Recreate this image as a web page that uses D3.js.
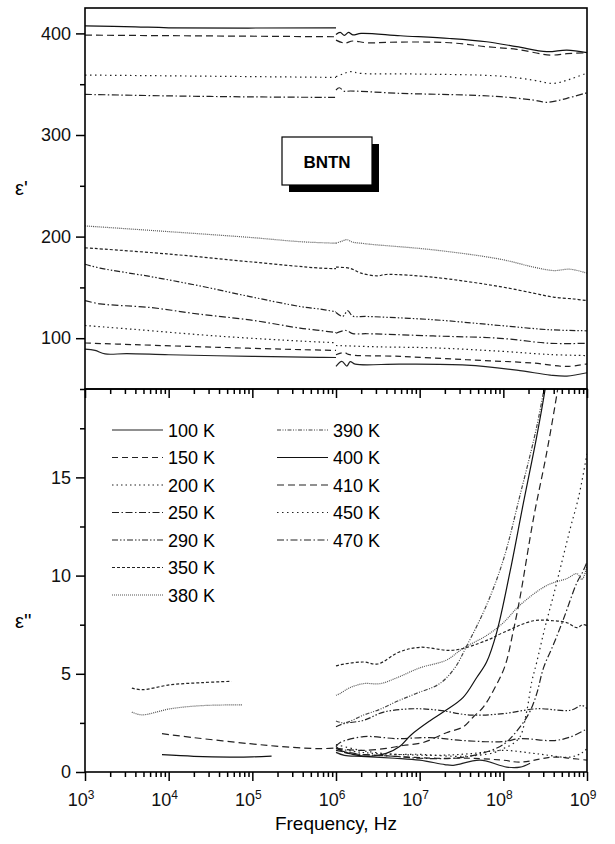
<!DOCTYPE html>
<html>
<head>
<meta charset="utf-8">
<script src="https://cdnjs.cloudflare.com/ajax/libs/d3/7.8.5/d3.min.js"></script>
<style>
body { margin: 0; background: #fff; }
svg { display: block; font-family: "Liberation Sans", Arial, Helvetica, sans-serif; }
</style>
</head>
<body>
<svg id="chart" width="615" height="844"></svg>
<script>
// temperatures in legend order
var temps = ["100 K", "150 K", "200 K", "250 K", "290 K", "350 K", "380 K", "390 K", "400 K", "410 K", "450 K", "470 K"]

// ε' curves, points are [log10(f / Hz), value]; lo = 1e3..1e6, hi = 1e6..1e9
var re100lo = [[3,89.3],[3.12,88],[3.24,84.5],[3.5,84.8],[4,83.7],[5,82.1],[5.8,81.1],[6,81]]
var re100hi = [[6,72.2],[6.07,77.1],[6.13,72.6],[6.17,77],[6.23,74.5],[6.77,74.5],[7.56,73.5],[8.16,68.6],[8.56,63.7],[8.76,62.7],[9,66]]
var re150lo = [[3,95.3],[3.6,93.6],[4.6,91],[5.6,88.7],[6,88]]
var re150hi = [[6,83.7],[6.1,86],[6.15,84],[6.77,82.1],[7.56,78.8],[8.36,75.5],[8.76,72.2],[9,74.8]]
var re200lo = [[3,112.5],[3.6,108.6],[4.6,102],[5.6,97.1],[6,95.5]]
var re200hi = [[6,92.8],[6.5,91.5],[7.16,90.5],[7.96,87.2],[8.56,83.9],[9,82.9]]
var re250lo = [[3,137],[3.18,133.8],[3.78,130.2],[4.37,123.6],[4.97,118],[5.57,109.9],[5.81,107.6],[6,105.5]]
var re250hi = [[6,104.9],[6.12,107.6],[6.2,104.5],[6.37,104.4],[7.16,102.2],[7.96,99.9],[8.56,95],[9,95]]
var re290lo = [[3,172.8],[3.18,169],[3.78,160.7],[4.37,151.5],[4.97,141],[5.57,131.2],[5.81,128.6],[6,126]]
var re290hi = [[6,125.3],[6.08,121.5],[6.14,127],[6.2,121.8],[6.37,121.4],[7.16,118.2],[7.96,112.5],[8.56,108.3],[9,107.3]]
var re350lo = [[3,189],[3.98,183],[5,175],[5.81,169],[6,168.5]]
var re350hi = [[6,170],[6.17,168.7],[6.3,164],[6.49,161.4],[6.6,162.7],[7.16,160],[7.96,150.8],[8.36,144.3],[8.6,140.4],[8.84,138.6],[9,137]]
var re380lo = [[3,210.5],[3.98,205],[5,199],[5.57,195],[6,193.5]]
var re380hi = [[6,193.5],[6.07,195.5],[6.13,197],[6.2,194.5],[6.3,193.5],[6.4,192.5],[7.16,187],[7.96,177.8],[8.36,170],[8.6,166.6],[8.8,167.9],[9,164]]
var re400lo = [[3,407.5],[3.6,406.5],[4,405.5],[6,405.5]]
var re400hi = [[6,399],[6.05,401],[6.1,398],[6.15,401],[6.2,398.5],[6.3,400],[6.77,397.7],[7.36,395],[7.8,391.8],[8.16,386.9],[8.52,382],[8.76,383.6],[9,381]]
var re410lo = [[3,398.3],[6,396.7]]
var re410hi = [[6,393.4],[6.1,390.5],[6.2,392.5],[6.37,390.8],[6.77,391.5],[7.36,390.8],[7.8,386.9],[8.16,384.3],[8.56,378.7],[8.76,380],[9,381]]
var re450lo = [[3,359],[6,356.7]]
var re450hi = [[6,357.4],[6.08,360],[6.17,362.3],[6.3,360.6],[6.97,360],[7.96,358],[8.36,354],[8.6,350.8],[8.8,355],[9,361]]
var re470lo = [[3,340],[4,338.5],[5,337.5],[6,337]]
var re470hi = [[6,344.3],[6.04,346.5],[6.1,343],[6.17,343.3],[6.77,341],[7.56,339.3],[7.96,337.7],[8.36,334.4],[8.52,332.2],[8.76,336.1],[9,341.6]]

// ε'' curves
var im350lo = [[3.56,4.27],[3.68,4.19],[4.02,4.44],[4.4,4.55],[4.75,4.62]]
var im380lo = [[3.56,3.05],[3.68,2.91],[4.02,3.22],[4.4,3.38],[4.88,3.42]]
var im410lo = [[3.92,1.95],[4.3,1.75],[4.97,1.44],[5.4,1.28],[5.81,1.19],[6,1.22]]
var im400lo = [[3.92,0.88],[4.3,0.8],[4.73,0.76],[5,0.77],[5.23,0.81]]
var im100 = [[6,1.0],[6.1,0.85],[6.3,0.8],[6.7,0.7],[7,0.6],[7.3,0.38],[7.4,0.34],[7.72,0.6],[8.04,0.25],[8.2,0.25],[8.32,0.45]]
var im150 = [[6,1.3],[6.1,1.0],[6.3,0.9],[6.7,0.8],[7.2,0.7],[7.6,0.7],[8,0.6],[8.2,0.5],[8.6,0.76],[8.8,0.7],[9,0.6]]
var im200 = [[6,1.2],[6.3,1.0],[6.7,0.9],[7.2,0.85],[7.6,0.93],[8,1.1],[8.4,0.93],[8.8,0.76],[8.95,1.0],[9,1.2]]
var im250 = [[6,1.3],[6.05,1.5],[6.33,1.8],[6.73,1.7],[7.12,1.75],[7.52,1.6],[8,1.55],[8.2,1.7],[8.6,1.6],[8.8,1.78],[9,2.2]]
var im290 = [[6,2.3],[6.09,2.46],[6.33,2.63],[6.57,3.05],[6.93,3.22],[7.24,3.14],[7.6,2.9],[8,2.97],[8.4,3.22],[8.8,3.14],[8.94,3.39],[9,3.22]]
var im350 = [[6,5.4],[6.1,5.5],[6.33,5.6],[6.5,5.5],[6.75,6.1],[7,6.35],[7.4,6.2],[7.8,6.7],[8,7.1],[8.36,7.7],[8.6,7.7],[8.76,7.6],[8.88,7.35],[8.95,7.5],[9,7.45]]
var im380 = [[6,3.9],[6.05,4.0],[6.17,4.3],[6.33,4.5],[6.53,4.5],[6.73,4.8],[7,5.3],[7.32,5.7],[7.52,6.3],[7.8,6.95],[8,7.6],[8.2,8.5],[8.52,9.5],[8.76,9.85],[8.88,10.1],[8.94,9.8],[9,10.5]]
var im390 = [[6,2.6],[6.1,2.5],[6.33,2.9],[6.53,3.2],[6.73,3.6],[6.96,4.0],[7.24,4.5],[7.42,5.3],[7.56,6.4],[7.8,8.5],[8,10.8],[8.2,14.1],[8.4,17.6],[8.55,21]]
var im400 = [[6,1.2],[6.2,0.9],[6.4,0.8],[6.6,0.95],[6.76,1.3],[6.9,1.9],[7.12,2.6],[7.3,3.1],[7.52,3.8],[7.68,4.8],[7.8,5.6],[7.92,7.1],[8.08,10.2],[8.24,13.7],[8.4,17.1],[8.5,19.5],[8.55,21]]
var im410 = [[6,1.2],[6.3,1.1],[6.6,1.2],[6.8,1.35],[7.04,1.5],[7.32,2.0],[7.52,2.3],[7.64,2.8],[7.76,3.3],[7.9,4.3],[8.02,5.4],[8.12,7.2],[8.2,8.9],[8.36,12.9],[8.52,16.3],[8.65,19.5],[8.7,21]]
var im450 = [[6,1.4],[6.3,1.1],[6.7,0.9],[7,0.9],[7.4,0.8],[7.7,0.85],[7.9,1.0],[8,1.19],[8.1,1.4],[8.2,1.8],[8.28,3.1],[8.34,4.6],[8.4,5.6],[8.5,7.4],[8.6,9.0],[8.7,10.7],[8.8,12.4],[8.9,14.0],[9,16.2]]
var im470 = [[6,1.1],[6.3,0.9],[6.7,0.8],[7,0.7],[7.4,0.7],[7.7,0.9],[8,1.4],[8.2,2.3],[8.32,3.1],[8.4,4.0],[8.48,5.3],[8.6,6.5],[8.72,7.8],[8.88,9.65],[8.95,10.2],[9,10.7]]

var reTicks = [100, 200, 300, 400]
var imTicks = [0, 5, 10, 15]
var decades = [3, 4, 5, 6, 7, 8, 9]

// line styles for each temperature (same order as temps)
var dashes = ["", "6,4", "1.5,3", "7,2.5,1.5,2.5", "6,2,1.5,2,1.5,2", "3,2", "1,1", "4,1.5,1,1.5,1,1.5", "", "7,4", "1.5,3.5", "7,2.5,1.5,2.5"]
var greys = ["#222", "#222", "#222", "#222", "#222", "#222", "#555", "#444", "#111", "#222", "#222", "#222"]

var reSeries = [[0, re100lo], [0, re100hi], [1, re150lo], [1, re150hi], [2, re200lo], [2, re200hi],
    [3, re250lo], [3, re250hi], [4, re290lo], [4, re290hi], [5, re350lo], [5, re350hi],
    [6, re380lo], [6, re380hi], [8, re400lo], [8, re400hi], [9, re410lo], [9, re410hi],
    [10, re450lo], [10, re450hi], [11, re470lo], [11, re470hi]]
var imSeries = [[5, im350lo], [6, im380lo], [9, im410lo], [8, im400lo],
    [0, im100], [1, im150], [2, im200], [3, im250], [4, im290], [5, im350], [6, im380],
    [7, im390], [8, im400], [9, im410], [10, im450], [11, im470]]

var pLeft = 85, pRight = 587, pTop = 8, pMid = 389, pBottom = 772

var svg = d3.select("#chart")

var x = d3.scaleLog().domain([1e3, 1e9]).range([pLeft, pRight])
var yRe = d3.scaleLinear().domain([50, 425]).range([pMid, pTop])
var yIm = d3.scaleLinear().domain([0, 19.5]).range([pBottom, pMid])

var defs = svg.append("defs")
defs.append("clipPath").attr("id", "clipRe").append("rect")
    .attr("x", pLeft).attr("y", pTop).attr("width", pRight - pLeft).attr("height", pMid - pTop)
defs.append("clipPath").attr("id", "clipIm").append("rect")
    .attr("x", pLeft).attr("y", pMid).attr("width", pRight - pLeft).attr("height", pBottom - pMid)

function drawCurves(series, y, clip) {
    var line = d3.line()
        .x(function (d) { return x(Math.pow(10, d[0])) })
        .y(function (d) { return y(d[1]) })
        .curve(d3.curveCatmullRom.alpha(0.5))
    svg.append("g").attr("clip-path", "url(#" + clip + ")")
        .selectAll("path").data(series).enter().append("path")
        .attr("d", function (d) { return line(d[1]) })
        .attr("fill", "none")
        .attr("stroke", function (d) { return greys[d[0]] })
        .attr("stroke-width", 1.2)
        .attr("stroke-dasharray", function (d) { return dashes[d[0]] })
}

drawCurves(reSeries, yRe, "clipRe")
drawCurves(imSeries, yIm, "clipIm")

// minor x ticks
var minors = []
decades.slice(0, -1).forEach(function (e) {
    for (var k = 2; k < 10; k++) minors.push(k * Math.pow(10, e))
})
var majors = decades.map(function (e) { return Math.pow(10, e) })

function styleAxis(g) {
    g.select(".domain").remove()
    g.selectAll("line").attr("stroke", "#000").attr("stroke-width", 1.5)
}

// x ticks on the bottom axis and on the panel divider
;[pMid, pBottom].forEach(function (yy) {
    svg.append("g").attr("transform", "translate(0," + yy + ")")
        .call(d3.axisBottom(x).tickValues(majors).tickSize(9).tickFormat(""))
        .call(styleAxis)
    svg.append("g").attr("transform", "translate(0," + yy + ")")
        .call(d3.axisBottom(x).tickValues(minors).tickSize(5).tickFormat(""))
        .call(styleAxis)
})

// x tick labels 10^n
var xl = svg.append("g").attr("font-size", 18).attr("fill", "#111")
decades.forEach(function (e) {
    var t = xl.append("text").attr("x", x(Math.pow(10, e)) - 4).attr("y", 806)
        .attr("text-anchor", "middle")
    t.append("tspan").text("10")
    t.append("tspan").attr("dy", -7).attr("font-size", 12).text(e)
})

// y axes
svg.append("g").attr("transform", "translate(" + pLeft + ",0)")
    .call(d3.axisLeft(yRe).tickValues(reTicks).tickSize(9).tickPadding(5).tickFormat(d3.format("d")))
    .call(styleAxis)
svg.append("g").attr("transform", "translate(" + pLeft + ",0)")
    .call(d3.axisLeft(yRe).tickValues(reTicks.map(function (v) { return v - 50 })).tickSize(5).tickFormat(""))
    .call(styleAxis)
svg.append("g").attr("transform", "translate(" + pLeft + ",0)")
    .call(d3.axisLeft(yIm).tickValues(imTicks).tickSize(9).tickPadding(5).tickFormat(d3.format("d")))
    .call(styleAxis)
svg.append("g").attr("transform", "translate(" + pLeft + ",0)")
    .call(d3.axisLeft(yIm).tickValues(imTicks.map(function (v) { return v + 2.5 })).tickSize(5).tickFormat(""))
    .call(styleAxis)
svg.selectAll(".tick text").attr("font-size", 18).attr("fill", "#111")
    .attr("font-family", "'Liberation Sans', Arial, sans-serif")

// panel frames
svg.append("rect").attr("x", pLeft).attr("y", pTop).attr("width", pRight - pLeft).attr("height", pMid - pTop)
    .attr("fill", "none").attr("stroke", "#000").attr("stroke-width", 1.6)
svg.append("rect").attr("x", pLeft).attr("y", pMid).attr("width", pRight - pLeft).attr("height", pBottom - pMid)
    .attr("fill", "none").attr("stroke", "#000").attr("stroke-width", 1.6)

// axis titles
svg.append("text").attr("x", 15).attr("y", 195).attr("font-size", 20).text("ε'")
svg.append("text").attr("x", 15).attr("y", 628).attr("font-size", 20).text("ε''")
svg.append("text").attr("x", 336).attr("y", 830).attr("font-size", 19)
    .attr("text-anchor", "middle").text("Frequency, Hz")

// BNTN label box with shadow
svg.append("rect").attr("x", 289).attr("y", 144).attr("width", 90).attr("height", 48).attr("fill", "#000")
svg.append("rect").attr("x", 282).attr("y", 137).attr("width", 90).attr("height", 48)
    .attr("fill", "#fff").attr("stroke", "#000").attr("stroke-width", 1.2)
svg.append("text").attr("x", 327).attr("y", 168).attr("text-anchor", "middle")
    .attr("font-size", 17).attr("font-weight", "bold").text("BNTN")

// legend
var legend = svg.append("g")
temps.forEach(function (t, i) {
    var col = i < 7 ? 0 : 1
    var row = i < 7 ? i : i - 7
    var x0 = col == 0 ? 112 : 277
    var yy = 430 + row * 27.5
    legend.append("line").attr("x1", x0).attr("x2", x0 + 51).attr("y1", yy).attr("y2", yy)
        .attr("stroke", greys[i]).attr("stroke-width", 1.2).attr("stroke-dasharray", dashes[i])
    legend.append("text").attr("x", x0 + 56).attr("y", yy + 6.5).attr("font-size", 18).text(t)
})
</script>
</body>
</html>
